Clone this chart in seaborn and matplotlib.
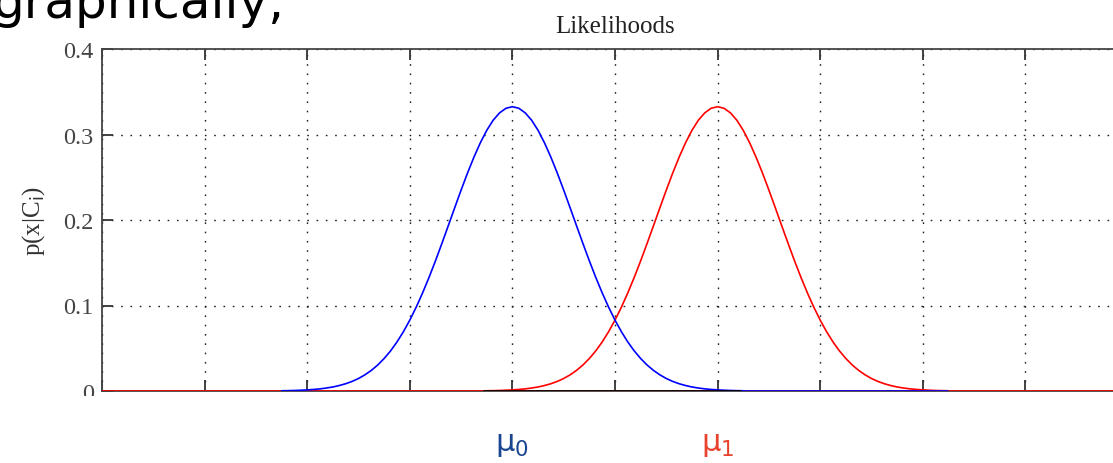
import numpy as np
import matplotlib
matplotlib.use("Agg")
import matplotlib.pyplot as plt
import seaborn as sns
import pandas as pd
from matplotlib.patches import Rectangle

# ---- data ----
mu0 = 0.0
mu1 = 4.0
offsets = np.arange(-4.5, 4.5 + 0.0625, 0.125)
likelihood = [0.0003, 0.0004, 0.0006, 0.0009, 0.0013, 0.0018, 0.0025, 0.0035,
              0.0047, 0.0064, 0.0085, 0.0112, 0.0146, 0.0189, 0.0241, 0.0304,
              0.0380, 0.0469, 0.0573, 0.0693, 0.0829, 0.0981, 0.1148, 0.1329,
              0.1522, 0.1725, 0.1933, 0.2143, 0.2350, 0.2549, 0.2735, 0.2903,
              0.3049, 0.3167, 0.3253, 0.3307,
              0.3325,
              0.3307, 0.3253, 0.3167, 0.3049, 0.2903, 0.2735, 0.2549, 0.2350,
              0.2143, 0.1933, 0.1725, 0.1522, 0.1329, 0.1148, 0.0981, 0.0829,
              0.0693, 0.0573, 0.0469, 0.0380, 0.0304, 0.0241, 0.0189, 0.0146,
              0.0112, 0.0085, 0.0064, 0.0047, 0.0035, 0.0025, 0.0018, 0.0013,
              0.0009, 0.0006, 0.0004, 0.0003]
baseline_x = [-8.0, 12.0]
blue_tail_x = [4.5, 8.5]
black_seg_x = [-0.55, 4.45]
x_ticks = [-8, -6, -4, -2, 0, 2, 4, 6, 8, 10, 12]
y_ticks = [0, 0.1, 0.2, 0.3, 0.4]
y_tick_labels = ["0", "0.1", "0.2", "0.3", "0.4"]

blue_df = pd.DataFrame({"x": mu0 + offsets, "p": likelihood})
red_df = pd.DataFrame({"x": mu1 + offsets, "p": likelihood})

sns.set_style("white")
plt.rcParams["font.family"] = ["Liberation Serif", "DejaVu Serif"]

W, H = 1113, 464
fig = plt.figure(figsize=(W / 100, H / 100), dpi=100)
ax = fig.add_axes([102 / W, 1 - 392 / H, (1128 - 102) / W, (392 - 50) / H])

lw = 1.2
ax.plot(baseline_x, [0, 0], color="#ff0000", lw=lw, zorder=3)
sns.lineplot(data=red_df, x="x", y="p", color="#ff0000", lw=lw, ax=ax,
             zorder=4, estimator=None, sort=False)
sns.lineplot(data=blue_df, x="x", y="p", color="#0000ff", lw=lw, ax=ax,
             zorder=5, estimator=None, sort=False)
ax.plot(blue_tail_x, [0, 0], color="#0000ff", lw=lw, zorder=5)
ax.plot(black_seg_x, [0, 0], color="black", lw=lw, zorder=6)

ax.set_xlim(-8, 12)
ax.set_ylim(0, 0.4)
ax.set_xticks(x_ticks)
ax.set_xticklabels([])
ax.set_yticks(y_ticks)
ax.set_yticklabels(y_tick_labels)
ax.set_xlabel("")
ax.set_ylabel("p(x|C$_{\\rm i}$)", fontsize=18, color="#333333", labelpad=12)
ax.set_title("Likelihoods", fontsize=18, color="#222222", pad=12)

ax.grid(True, color="#222222", linestyle=(0, (1.2, 5.5)), linewidth=1.0, zorder=1)
ax.set_axisbelow(True)
ax.tick_params(direction="in", length=8, width=1.3, color="#333333",
               top=True, bottom=True, left=True, right=False,
               labelsize=17.5, labelcolor="#444444", pad=6)
for s in ["left", "top", "bottom"]:
    ax.spines[s].set_color("#444444")
    ax.spines[s].set_linewidth(1.3)
ax.spines["right"].set_visible(False)

# mask below the plot (as in the slide)
fig.patches.append(Rectangle((0, 0), 1, 1 - 397 / H, transform=fig.transFigure,
                             facecolor="white", edgecolor="none", zorder=10))

# slide text
fig.text(284 / W, 1 - 18 / H, "graphically,", fontsize=36, family=["DejaVu Sans"],
         color="black", ha="right", va="baseline", zorder=11)

# mu labels
x0_fig = fig.transFigure.inverted().transform(ax.transData.transform((mu0, 0)))[0]
x1_fig = fig.transFigure.inverted().transform(ax.transData.transform((mu1, 0)))[0]
fig.text(x0_fig, 1 - 445 / H, "$\\mathregular{\\mu_0}$", fontsize=22, color="#1a4590",
         ha="center", va="center", family=["DejaVu Sans"], zorder=11)
fig.text(x1_fig, 1 - 445 / H, "$\\mathregular{\\mu_1}$", fontsize=22, color="#e8412c",
         ha="center", va="center", family=["DejaVu Sans"], zorder=11)

fig.savefig("out.png", dpi=100)
